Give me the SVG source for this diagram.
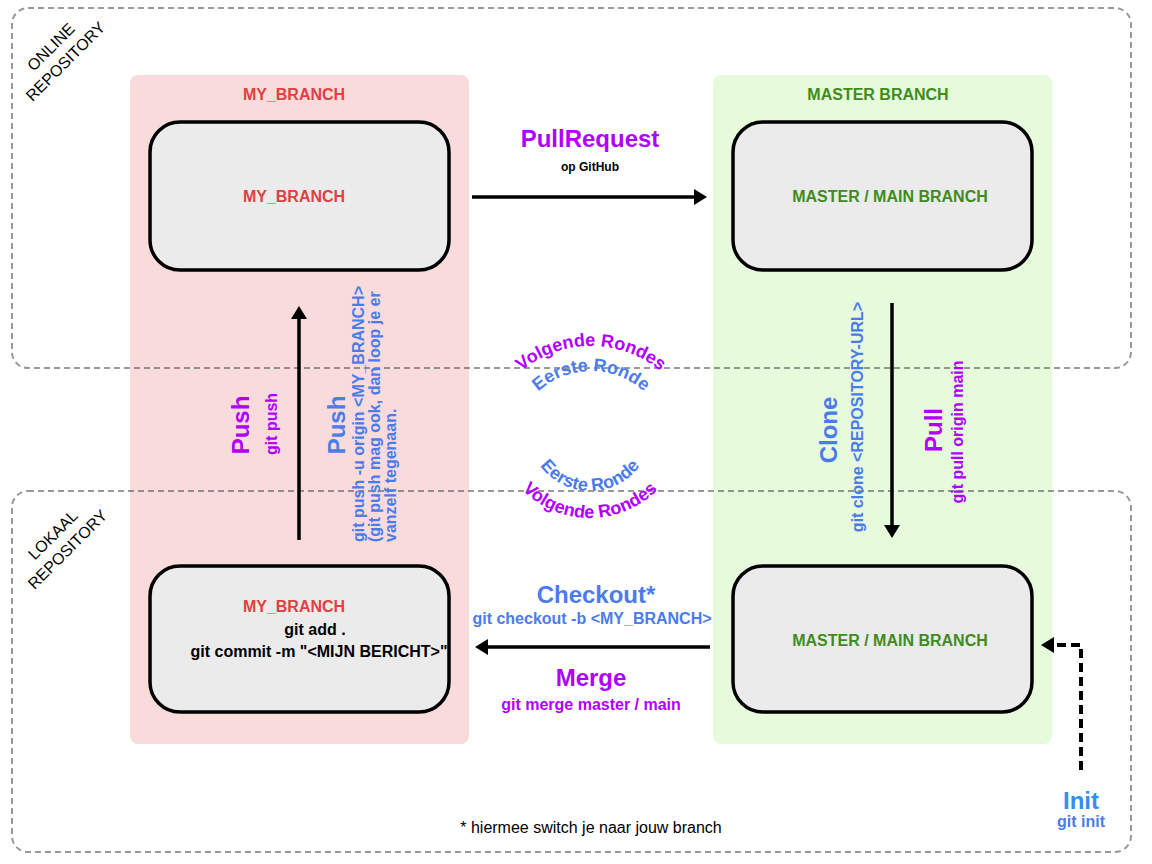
<svg xmlns="http://www.w3.org/2000/svg" width="1152" height="864" viewBox="0 0 1152 864">
<style>
text{font-family:"Liberation Sans",Arial,Helvetica,sans-serif;font-weight:bold}
.reg{font-weight:normal}
.repo{fill:none;stroke:#555;stroke-opacity:0.6;stroke-width:2;stroke-dasharray:6 4}
.node{fill:#ebebeb;stroke:#000;stroke-width:3.5}
.red{fill:#e0403f}
.green{fill:#3f8c1c}
.purple{fill:#b000ff}
.blue{fill:#4b7bec}
.blk{fill:#000}
.arrow{fill:none;stroke:#000;stroke-width:3.5;marker-end:url(#ah)}
.dash{stroke-dasharray:9 5;stroke-width:4}
.big{font-size:24px}
.mid{font-size:16px}
.curve{font-size:18px}
</style>
<defs>
<marker id="ah" markerUnits="userSpaceOnUse" markerWidth="14" markerHeight="16" viewBox="0 0 14 16" refX="1" refY="8" orient="auto">
<path d="M0,0 L13,8 L0,16 z" fill="#000"/>
</marker>
<path id="arcTopOuter" d="M482,455 A109,109 0 0 1 700,455"/>
<path id="arcTopInner" d="M513,449 A78,78 0 0 1 669,449"/>
<path id="arcBotInner" d="M528,429 A62,62 0 0 0 652,429"/>
<path id="arcBotOuter" d="M495,423 A95,95 0 0 0 685,423"/>
</defs>
<rect x="0" y="0" width="1152" height="864" fill="#fff"/>

<g id="lane-my-branch">
<rect x="130" y="75" width="339" height="669" rx="8" fill="#f9dbdb"/>
<text class="red mid" x="294" y="100" text-anchor="middle">MY_BRANCH</text>
</g>
<g id="lane-master">
<rect x="713" y="75" width="339" height="669" rx="8" fill="#e6fadc"/>
<text class="green mid" x="878" y="100" text-anchor="middle">MASTER BRANCH</text>
</g>

<g id="online-repository">
<rect class="repo" x="12" y="8" width="1119" height="360" rx="16"/>
<text class="reg blk" font-size="16" text-anchor="middle" transform="translate(58,54) rotate(-45)"><tspan x="0" y="-4.5">ONLINE</tspan><tspan x="0" y="16">REPOSITORY</tspan></text>
</g>
<g id="lokaal-repository">
<rect class="repo" x="12" y="491" width="1119" height="361" rx="16"/>
<text class="reg blk" font-size="16" text-anchor="middle" transform="translate(60,542) rotate(-45)"><tspan x="0" y="-4.5">LOKAAL</tspan><tspan x="0" y="16">REPOSITORY</tspan></text>
</g>

<g id="node-my-branch-online">
<rect class="node" x="150" y="122" width="299" height="148" rx="30"/>
<text class="red mid" x="294" y="202" text-anchor="middle">MY_BRANCH</text>
</g>
<g id="node-master-online">
<rect class="node" x="733" y="122" width="299" height="148" rx="30"/>
<text class="green mid" x="890" y="202" text-anchor="middle">MASTER / MAIN BRANCH</text>
</g>
<g id="node-my-branch-local">
<rect class="node" x="150" y="566" width="299" height="146" rx="30"/>
<text class="red mid" x="294" y="612" text-anchor="middle">MY_BRANCH</text>
<text class="blk mid" x="315" y="635" text-anchor="middle">git add .</text>
<text class="blk mid" x="319" y="657" text-anchor="middle">git commit -m "&lt;MIJN BERICHT&gt;"</text>
</g>
<g id="node-master-local">
<rect class="node" x="733" y="566" width="299" height="146" rx="30"/>
<text class="green mid" x="890" y="646" text-anchor="middle">MASTER / MAIN BRANCH</text>
</g>

<g id="connectors">
<line class="arrow" x1="472" y1="197" x2="695" y2="197"/>
<line class="arrow" x1="299" y1="540" x2="299" y2="318"/>
<line class="arrow" x1="892" y1="303" x2="892" y2="526"/>
<line class="arrow" x1="710" y1="647" x2="487" y2="647"/>
<path class="arrow dash" d="M1081,770 V645 H1053"/>
</g>

<g id="labels">
<text class="purple big" x="590" y="147" text-anchor="middle">PullRequest</text>
<text class="blk" font-size="12" x="590" y="171" text-anchor="middle">op GitHub</text>

<text class="purple big" text-anchor="middle" transform="translate(249,425) rotate(-90)">Push</text>
<text class="purple mid" text-anchor="middle" transform="translate(277,424) rotate(-90)">git push</text>
<text class="blue big" text-anchor="middle" transform="translate(345,425) rotate(-90)">Push</text>
<text class="blue mid" text-anchor="start" transform="translate(0,542) rotate(-90)"><tspan x="0" y="364">git push -u origin &lt;MY_BRANCH&gt;</tspan><tspan x="0" y="380">(git push mag ook, dan loop je er</tspan><tspan x="0" y="396">vanzelf tegenaan.</tspan></text>

<text class="blue big" text-anchor="middle" transform="translate(837,430) rotate(-90)">Clone</text>
<text class="blue mid" text-anchor="middle" transform="translate(863,417) rotate(-90)">git clone &lt;REPOSITORY-URL&gt;</text>
<text class="purple big" text-anchor="middle" transform="translate(942,430) rotate(-90)">Pull</text>
<text class="purple mid" text-anchor="middle" transform="translate(963,432) rotate(-90)">git pull origin main</text>

<text class="blue big" x="596" y="603" text-anchor="middle">Checkout*</text>
<text class="blue mid" x="592" y="624" text-anchor="middle">git checkout -b &lt;MY_BRANCH&gt;</text>
<text class="purple big" x="591" y="686" text-anchor="middle">Merge</text>
<text class="purple mid" x="591" y="710" text-anchor="middle">git merge master / main</text>

<text class="big" fill="#3090f0" x="1081" y="809" text-anchor="middle">Init</text>
<text class="blue mid" x="1081" y="827" text-anchor="middle">git init</text>

<text class="purple curve" text-anchor="middle"><textPath href="#arcTopOuter" startOffset="50%">Volgende Rondes</textPath></text>
<text class="blue curve" text-anchor="middle"><textPath href="#arcTopInner" startOffset="50%">Eerste Ronde</textPath></text>
<text class="blue curve" text-anchor="middle"><textPath href="#arcBotInner" startOffset="50%">Eerste Ronde</textPath></text>
<text class="purple curve" text-anchor="middle"><textPath href="#arcBotOuter" startOffset="50%">Volgende Rondes</textPath></text>

<text class="reg blk" font-size="16" x="591" y="833" text-anchor="middle">* hiermee switch je naar jouw branch</text>
</g>
</svg>
